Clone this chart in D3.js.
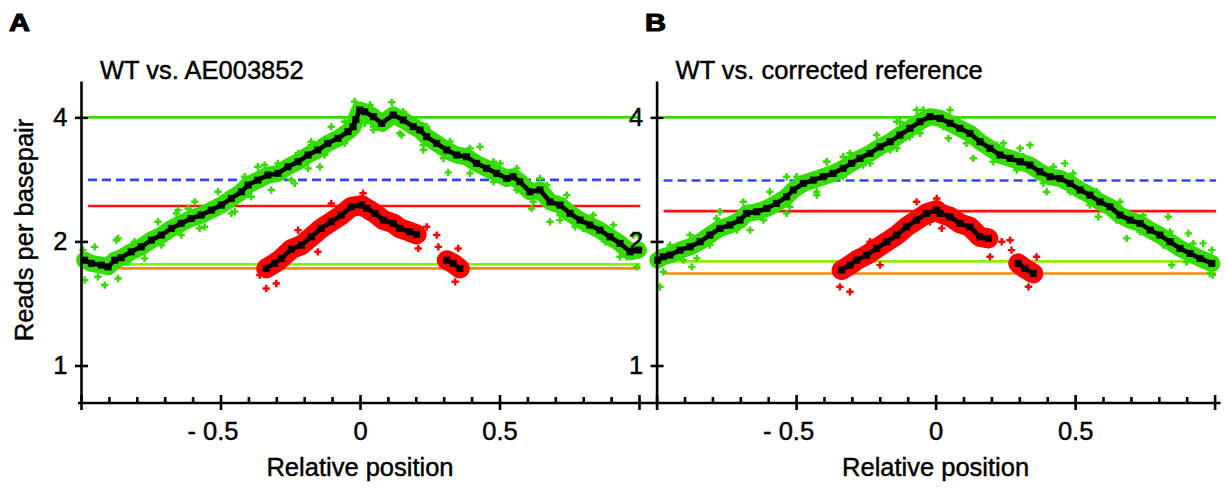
<!DOCTYPE html>
<html><head><meta charset="utf-8">
<script src="https://cdn.jsdelivr.net/npm/d3@7"></script>
<style>
html,body{margin:0;padding:0;background:#fff;}
svg{display:block;font-family:"Liberation Sans",Arial,sans-serif;}
text{stroke:#000;stroke-width:0.45px;fill:#000;}
</style></head><body>
<svg id="chart" width="1228" height="493"></svg>
<script>
// ---------------- DATA ----------------
const panelLetters = ["A", "B"];
const panelTitles = ["WT vs. AE003852", "WT vs. corrected reference"];
const xAxisTitle = "Relative position";
const yAxisTitle = "Reads per basepair";
const yTickValues = [1, 2, 4];
const xTickValues = [-1, -0.9, -0.8, -0.7, -0.6, -0.5, -0.4, -0.3, -0.2, -0.1, 0, 0.1, 0.2, 0.3, 0.4, 0.5, 0.6, 0.7, 0.8, 0.9, 1];
const xMajorTicks = [-1, -0.5, 0, 0.5, 1];
const xTickLabelValues = [-0.5, 0, 0.5];
const xTickLabelTexts = ["- 0.5", "0", "0.5"];

// horizontal reference levels: [top green, blue dashed, red, light green, orange]
const refLevelsA = [4, 2.82, 2.437, 1.759, 1.720];
const refLevelsB = [4, 2.81, 2.369, 1.789, 1.672];
const refExtent = [-0.975, 1.005];

// whole-genome windows (green cloud), binned means (black squares)
const posA = [-0.987,-0.963,-0.927,-0.903,-0.879,-0.856,-0.820,-0.784,-0.748,-0.712,-0.676,-0.641,-0.605,-0.569,-0.533,-0.497,-0.461,-0.425,-0.401,-0.366,-0.330,-0.294,-0.258,-0.222,-0.186,-0.151,-0.115,-0.079,-0.043,-0.025,-0.015,-0.001,0.017,0.048,0.078,0.119,0.155,0.191,0.215,0.239,0.275,0.311,0.347,0.382,0.418,0.454,0.490,0.526,0.549,0.573,0.609,0.645,0.681,0.717,0.753,0.789,0.824,0.860,0.896,0.932,0.968,0.998];
const meanA = [1.801,1.769,1.752,1.735,1.801,1.825,1.887,1.940,2.014,2.072,2.151,2.212,2.274,2.317,2.382,2.450,2.543,2.639,2.740,2.817,2.897,2.925,3.035,3.121,3.240,3.332,3.459,3.557,3.691,3.796,3.95,4.167,4.127,4.014,3.869,4.053,3.940,3.796,3.727,3.589,3.459,3.332,3.240,3.209,3.093,3.008,2.925,2.844,2.870,2.791,2.639,2.665,2.495,2.450,2.339,2.253,2.191,2.130,2.052,1.978,1.887,1.905];
const posB = [-0.996,-0.976,-0.952,-0.916,-0.880,-0.844,-0.809,-0.773,-0.737,-0.701,-0.677,-0.641,-0.605,-0.570,-0.534,-0.510,-0.474,-0.438,-0.403,-0.367,-0.331,-0.301,-0.271,-0.235,-0.199,-0.163,-0.128,-0.092,-0.056,-0.020,0.016,0.052,0.087,0.123,0.159,0.195,0.231,0.267,0.303,0.338,0.374,0.410,0.446,0.482,0.518,0.553,0.589,0.625,0.661,0.697,0.733,0.769,0.804,0.840,0.876,0.912,0.948,0.990];
const meanB = [1.801,1.835,1.853,1.905,1.940,1.996,2.072,2.151,2.191,2.253,2.339,2.360,2.405,2.473,2.566,2.665,2.766,2.817,2.870,2.925,3.008,3.093,3.181,3.271,3.394,3.490,3.623,3.761,3.904,4.014,3.978,3.869,3.761,3.658,3.490,3.364,3.240,3.181,3.121,3.064,2.951,2.870,2.844,2.766,2.665,2.591,2.495,2.427,2.317,2.253,2.212,2.130,2.072,1.996,1.923,1.870,1.819,1.769];

// scattered green windows at and beyond the band edges
const greenOutXA = [-0.993,-0.951,-0.915,-0.867,-0.873,-0.724,-0.658,-0.616,-0.575,-0.449,-0.366,-0.294,-0.234,-0.175,-0.144,-0.019,0.017,-0.987,0.114,0.048,0.149,0.227,0.316,0.430,0.502,0.645,0.615,0.681,0.717,0.771,0.998,0.932,0.992,0.878,
  -0.867,-0.808,-0.652,-0.592,-0.509,-0.413,-0.342,-0.222,-0.175,-0.103,-0.055,
  -0.939,-0.832,-0.772,-0.712,-0.641,-0.557,-0.461,-0.390,-0.318,-0.246,-0.186,-0.127,-0.055,
  0.036,0.155,0.239,0.323,0.394,0.478,0.562,0.669,0.741,0.836,0.908,0.980,
  0.048,0.143,0.227,0.299,0.394,0.478,0.562,0.621,0.717,0.800,0.884,0.956];
const greenOutYA = [1.905,1.940,1.567,1.626,2.014,2.232,2.339,2.405,2.151,2.360,3.035,3.093,2.766,3.426,3.035,4.364,3.869,1.611,4.350,3.727,3.623,3.332,2.941,3.394,3.093,2.844,2.405,2.232,2.253,2.170,2.072,1.835,1.735,1.996,
  2.034,1.996,2.382,2.495,2.639,2.870,3.064,3.271,3.490,3.796,3.904,
  1.641,1.783,1.819,1.959,2.072,2.170,2.339,2.566,2.665,2.817,3.008,3.240,3.459,
  4.286,4.127,3.796,3.490,3.364,3.121,3.008,2.740,2.591,2.317,2.191,2.072,
  3.796,3.658,3.426,3.181,2.925,2.791,2.665,2.495,2.317,2.151,1.996,1.835];
const greenOutXB = [-0.988,-0.874,-0.856,-0.773,-0.665,-0.534,-0.534,-0.390,-0.426,-0.331,-0.259,-0.139,-0.092,-0.068,-0.163,0.046,0.135,0.243,0.338,0.303,0.398,0.463,0.583,0.685,0.834,0.906,0.846,0.959,0.993,
  -0.952,-0.880,-0.785,-0.689,-0.594,-0.498,-0.390,-0.307,-0.211,-0.128,-0.044,
  -0.976,-0.904,-0.809,-0.713,-0.617,-0.522,-0.426,-0.331,-0.235,-0.139,-0.056,
  0.052,0.135,0.219,0.314,0.422,0.493,0.577,0.661,0.744,0.840,0.923,0.990,
  0.028,0.111,0.207,0.291,0.386,0.482,0.553,0.649,0.733,0.816,0.900,0.983];
const greenOutYB = [1.552,1.735,1.819,2.360,2.130,2.870,2.339,3.121,2.591,3.209,3.064,3.904,3.589,4.167,3.332,3.557,3.181,3.459,3.426,3.364,2.639,3.093,2.295,2.034,2.295,2.092,1.752,1.978,1.657,
  1.959,2.072,2.274,2.495,2.639,2.870,3.121,3.271,3.623,3.904,4.167,
  1.688,1.801,1.959,2.130,2.253,2.427,2.639,2.870,3.093,3.364,3.658,
  4.167,3.691,3.426,3.209,3.035,2.925,2.639,2.495,2.317,2.110,1.978,1.905,
  3.796,3.459,3.121,2.978,2.766,2.639,2.450,2.253,2.110,1.959,1.783,1.672];

// red region windows (two clusters) and their binned means
const redPosA = [-0.336,-0.306,-0.282,-0.246,-0.210,-0.174,-0.139,-0.103,-0.067,-0.031,0.005,0.024,0.054,0.084,0.119,0.143,0.179,0.203, 0.311,0.334,0.358];
const redMeanA = [1.720,1.769,1.819,1.916,1.959,2.052,2.151,2.232,2.317,2.427,2.450,2.405,2.339,2.253,2.212,2.151,2.110,2.080, 1.801,1.769,1.720];
const redPosB = [-0.337,-0.307,-0.283,-0.247,-0.211,-0.175,-0.139,-0.104,-0.068,-0.032,0.004,0.016,0.052,0.087,0.123,0.159,0.189, 0.296,0.320,0.350];
const redMeanB = [1.704,1.752,1.801,1.853,1.923,1.996,2.072,2.170,2.253,2.339,2.382,2.339,2.295,2.212,2.170,2.052,2.034, 1.769,1.720,1.672];
const redOutXA = [-0.336,-0.300,-0.359,-0.222,-0.103,0.011,-0.151,0.239,0.275,0.209,0.281,0.341,0.352];
const redOutYA = [1.538,1.581,1.657,2.130,2.473,2.616,1.887,2.170,2.072,1.923,1.940,1.596,1.923];
const redOutXB = [-0.343,-0.307,-0.199,-0.068,0.004,-0.235,-0.020,0.267,0.272,0.237,0.195,0.333,0.362,0.022];
const redOutYB = [1.552,1.509,1.752,2.495,2.543,1.996,2.232,2.014,1.905,1.996,1.835,1.552,1.835,2.151];

// ---------------- STYLE / LAYOUT ----------------
const refColors = ["#33dd00", "#3344ff", "#ff1010", "#8cee00", "#ff8a00"];
const greenColor = "#33dd00";
const redColor = "#ff0000";
const FS = 25.5;

const svg = d3.select("#chart");
const y = d3.scaleLog().base(2).domain([0.811, 4.9]).range([403, 81]);

const panels = [
  {range: [81, 639], letterX: 9, pos: posA, mean: meanA, ref: refLevelsA, gx: greenOutXA, gy: greenOutYA, rp: redPosA, rm: redMeanA, rx: redOutXA, ry: redOutYA},
  {range: [656.6, 1214.6], letterX: 645, pos: posB, mean: meanB, ref: refLevelsB, gx: greenOutXB, gy: greenOutYB, rp: redPosB, rm: redMeanB, rx: redOutXB, ry: redOutYB}
];

const zip = (a, b) => a.map((v, i) => [v, b[i]]);
function splitClusters(pts) {
  const out = [[]];
  pts.forEach((p, i) => {
    if (i > 0 && p[0] - pts[i - 1][0] > 0.05) out.push([]);
    out[out.length - 1].push(p);
  });
  return out;
}

const scales = [];
panels.forEach((p, pi) => {
  const x = d3.scaleLinear().domain([-1, 1]).range(p.range);
  scales.push(x);
  const g = svg.append("g");

  // reference lines
  g.selectAll("line.ref").data(p.ref).join("line")
    .attr("x1", x(refExtent[0])).attr("x2", x(refExtent[1]))
    .attr("y1", d => y(d)).attr("y2", d => y(d))
    .attr("stroke", (d, i) => refColors[i]).attr("stroke-width", 2.6)
    .attr("stroke-dasharray", (d, i) => i === 1 ? "9,5" : null);

  const line = d3.line().x(d => x(d[0])).y(d => y(d[1]));

  // green cloud
  const gpts = zip(p.pos, p.mean);
  g.append("path").attr("d", line(gpts)).attr("fill", "none")
    .attr("stroke", greenColor).attr("stroke-width", 17)
    .attr("stroke-linejoin", "round").attr("stroke-linecap", "round");
  g.selectAll("path.gout").data(zip(p.gx, p.gy)).join("path")
    .attr("transform", d => `translate(${x(d[0])},${y(d[1])})`)
    .attr("d", d3.symbol(d3.symbolCross, 30)()).attr("fill", greenColor);

  // red cloud
  const rclusters = splitClusters(zip(p.rp, p.rm));
  rclusters.forEach(c => {
    g.append("path").attr("d", line(c)).attr("fill", "none")
      .attr("stroke", redColor).attr("stroke-width", 20)
      .attr("stroke-linejoin", "round").attr("stroke-linecap", "round");
  });
  g.selectAll("path.rout").data(zip(p.rx, p.ry)).join("path")
    .attr("transform", d => `translate(${x(d[0])},${y(d[1])})`)
    .attr("d", d3.symbol(d3.symbolCross, 30)()).attr("fill", redColor);

  // black binned means
  [gpts, ...rclusters].forEach(c => {
    g.append("path").attr("d", line(c)).attr("fill", "none")
      .attr("stroke", "#000").attr("stroke-width", 4.5);
    g.selectAll(null).data(c).join("rect")
      .attr("x", d => x(d[0]) - 3.5).attr("y", d => y(d[1]) - 3.5)
      .attr("width", 7).attr("height", 7).attr("fill", "#000");
  });

  // y axis
  const ya = g.append("g").attr("transform", `translate(${x(-1)},0)`)
    .call(d3.axisLeft(y).tickValues(yTickValues).tickFormat(d3.format("d")).tickSizeOuter(0));
  ya.select(".domain").attr("stroke-width", 2.6);
  ya.selectAll(".tick line").attr("x1", -6).attr("x2", 7).attr("stroke-width", 2.6);
  ya.selectAll(".tick text").attr("x", -13.5).attr("font-size", FS).attr("font-family", null).attr("fill", "#000");

  // x axis
  const xa = g.append("g").attr("transform", "translate(0,403)")
    .call(d3.axisBottom(x).tickValues(xTickValues).tickSizeOuter(0)
      .tickFormat(d => { const k = xTickLabelValues.findIndex(v => Math.abs(v - d) < 1e-9); return k >= 0 ? xTickLabelTexts[k] : ""; }));
  xa.select(".domain").remove();
  const isMajor = d => xMajorTicks.some(v => Math.abs(v - d) < 1e-9);
  xa.selectAll(".tick line").attr("y1", d => isMajor(d) ? -8 : -6).attr("y2", d => isMajor(d) ? 7 : 0).attr("stroke-width", 2.6);
  xa.selectAll(".tick text").attr("y", 19).attr("dy", "0.71em").attr("font-size", FS).attr("font-family", null).attr("fill", "#000")
    .attr("text-anchor", d => d < 0 ? "end" : "middle").attr("x", d => d < 0 ? 17.5 : 0);

  // titles
  g.append("text").attr("x", x(-1) + 19).attr("y", 79).attr("font-size", FS).text(panelTitles[pi]);
  g.append("text").attr("x", p.letterX).attr("y", 31).attr("font-size", 23).attr("font-weight", "bold")
    .style("stroke-width", "1px")
    .attr("textLength", 21).attr("lengthAdjust", "spacingAndGlyphs").text(panelLetters[pi]);
  g.append("text").attr("x", x(0)).attr("y", 476).attr("text-anchor", "middle").attr("font-size", FS).text(xAxisTitle);
});

// continuous x-axis baseline across both panels
svg.append("line").attr("x1", scales[0](-1) - 3).attr("x2", scales[1](1) + 6)
  .attr("y1", 403).attr("y2", 403).attr("stroke", "#000").attr("stroke-width", 2.6);

// y axis title
svg.append("text").attr("transform", "translate(33,230) rotate(-90)")
  .attr("text-anchor", "middle").attr("font-size", FS).text(yAxisTitle);
</script>
</body></html>
